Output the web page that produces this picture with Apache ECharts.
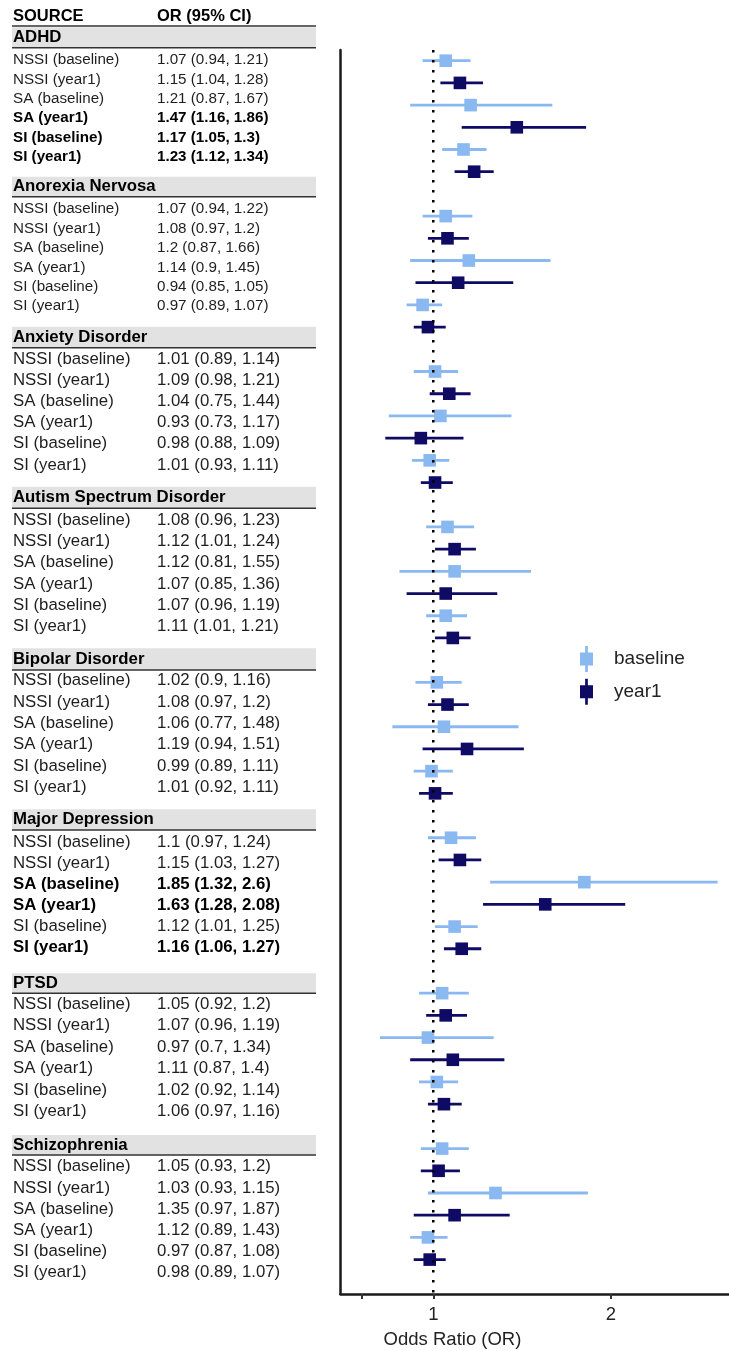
<!DOCTYPE html>
<html><head><meta charset="utf-8">
<script src="https://cdn.jsdelivr.net/npm/echarts@6/dist/echarts.min.js"></script>
<style>html,body{margin:0;padding:0;background:#fff}#c{width:729px;height:1351px}</style>
</head><body><div id="c"></div>
<script>
// ---------------- data ----------------
const groups = ['ADHD','Anorexia Nervosa','Anxiety Disorder','Autism Spectrum Disorder','Bipolar Disorder','Major Depression','PTSD','Schizophrenia'];
const outcomes = ['NSSI (baseline)','NSSI (year1)','SA (baseline)','SA (year1)','SI (baseline)','SI (year1)'];
const waves = ['baseline','year1','baseline','year1','baseline','year1'];
const orValues = [
  [1.07,1.15,1.21,1.47,1.17,1.23],
  [1.07,1.08,1.2,1.14,0.94,0.97],
  [1.01,1.09,1.04,0.93,0.98,1.01],
  [1.08,1.12,1.12,1.07,1.07,1.11],
  [1.02,1.08,1.06,1.19,0.99,1.01],
  [1.1,1.15,1.85,1.63,1.12,1.16],
  [1.05,1.07,0.97,1.11,1.02,1.06],
  [1.05,1.03,1.35,1.12,0.97,0.98]
];
const ciLower = [
  [0.94,1.04,0.87,1.16,1.05,1.12],
  [0.94,0.97,0.87,0.9,0.85,0.89],
  [0.89,0.98,0.75,0.73,0.88,0.93],
  [0.96,1.01,0.81,0.85,0.96,1.01],
  [0.9,0.97,0.77,0.94,0.89,0.92],
  [0.97,1.03,1.32,1.28,1.01,1.06],
  [0.92,0.96,0.7,0.87,0.92,0.97],
  [0.93,0.93,0.97,0.89,0.87,0.89]
];
const ciUpper = [
  [1.21,1.28,1.67,1.86,1.3,1.34],
  [1.22,1.2,1.66,1.45,1.05,1.07],
  [1.14,1.21,1.44,1.17,1.09,1.11],
  [1.23,1.24,1.55,1.36,1.19,1.21],
  [1.16,1.2,1.48,1.51,1.11,1.11],
  [1.24,1.27,2.6,2.08,1.25,1.27],
  [1.2,1.19,1.34,1.4,1.14,1.16],
  [1.2,1.15,1.87,1.43,1.08,1.07]
];
const boldRows = [
  [0,0,0,1,1,1],[0,0,0,0,0,0],[0,0,0,0,0,0],[0,0,0,0,0,0],
  [0,0,0,0,0,0],[0,0,1,1,0,1],[0,0,0,0,0,0],[0,0,0,0,0,0]
];
const xTickValues = [0.6, 1, 2];
const xLabelValues = [1, 2];
const legendNames = ['baseline','year1'];

// ---------------- layout / style ----------------
const FONT = '"Liberation Sans", Arial, sans-serif';
const COLORS = {baseline:'#8ab8f0', year1:'#0f0a64'};
const COL1_X = 13, COL2_X = 157, TABLE_L = 12, TABLE_R = 316;
const bandTop = [27.3,176.7,326.7,486.7,648.3,809.3,973.3,1135];
const bandH = [20.4,20,21,21.6,21.7,20.7,20,20];
const firstRowY = [60,209.3,359.3,520,680.7,842.3,1004.3,1166.7];
const rowStep = [19.34,19.34,21.14,21.34,21.32,21,21.48,21.2];
const rowFont = [15.2,15.2,16.8,16.8,16.8,16.8,16.8,16.8];
const ROWS_PER_GROUP = outcomes.length + 1;

// ---------------- table (graphic) ----------------
const graphics = [];
function txt(x, y, text, size, bold, color, align) {
  graphics.push({type:'text', x, y, silent:true, style:{
    text, fill: color || (bold ? '#000' : '#1e1e1e'),
    font: (bold ? 'bold ' : '') + size + 'px ' + FONT,
    align: align || 'left', verticalAlign:'middle'}});
}
txt(COL1_X, 16.5, 'SOURCE', 16.5, true);
txt(COL2_X, 16.5, 'OR (95% CI)', 16.5, true);
graphics.push({type:'line', silent:true, shape:{x1:TABLE_L, y1:26, x2:TABLE_R, y2:26}, style:{stroke:'#333', lineWidth:1.5}});
groups.forEach((g, gi) => {
  graphics.push({type:'rect', silent:true, shape:{x:TABLE_L, y:bandTop[gi], width:TABLE_R-TABLE_L, height:bandH[gi]}, style:{fill:'#e2e2e2'}});
  graphics.push({type:'line', silent:true, shape:{x1:TABLE_L, y1:bandTop[gi]+bandH[gi], x2:TABLE_R, y2:bandTop[gi]+bandH[gi]}, style:{stroke:'#333', lineWidth:1.6}});
  txt(COL1_X, bandTop[gi] + bandH[gi]/2, g, 16.8, true);
  outcomes.forEach((o, k) => {
    const y = firstRowY[gi] + k * rowStep[gi];
    const b = !!boldRows[gi][k];
    txt(COL1_X, y, o, rowFont[gi], b);
    txt(COL2_X, y, orValues[gi][k] + ' (' + ciLower[gi][k] + ', ' + ciUpper[gi][k] + ')', rowFont[gi], b);
  });
});
txt(452.5, 1340, 'Odds Ratio (OR)', 18.5, false, '#222', 'center');

// ---------------- forest series ----------------
function makeSeries(wave) {
  const color = COLORS[wave];
  const data = [];
  groups.forEach((g, gi) => outcomes.forEach((o, k) => {
    if (waves[k] !== wave) return;
    data.push([orValues[gi][k], ciLower[gi][k], ciUpper[gi][k], gi * ROWS_PER_GROUP + k]);
  }));
  return {
    type:'custom', name: wave, data, z: 3,
    encode:{x:[0,1,2], y:3},
    itemStyle:{color},
    renderItem(params, api) {
      const y = api.value(3);
      const p = api.coord([api.value(0), y]);
      const a = api.coord([api.value(1), y]);
      const b = api.coord([api.value(2), y]);
      return {type:'group', children:[
        {type:'line', shape:{x1:a[0], y1:a[1], x2:b[0], y2:b[1]}, style:{stroke:color, lineWidth:2.8}},
        {type:'rect', shape:{x:p[0]-6.3, y:p[1]-6.3, width:12.6, height:12.6}, style:{fill:color}}
      ]};
    }
  };
}
const Y_MIN = -0.482, Y_MAX = 55.55;

const chart = echarts.init(document.getElementById('c'), null, {renderer:'canvas'});
chart.setOption({
  animation:false,
  backgroundColor:'#fff',
  textStyle:{fontFamily:FONT},
  grid:{left:340.5, right:0, top:50, bottom:1351-1294, containLabel:false, outerBoundsMode:'none'},
  xAxis:{type:'value', min:0.478, max:2.664, splitLine:{show:false},
    axisLine:{show:true, onZero:false, lineStyle:{color:'#1a1a1a', width:2.5}},
    axisTick:{show:true, customValues:xTickValues, length:5, lineStyle:{color:'#333', width:2}},
    axisLabel:{customValues:xLabelValues, margin:11, fontSize:18.5, color:'#222', fontFamily:FONT}},
  yAxis:{type:'value', inverse:true, min:Y_MIN, max:Y_MAX, splitLine:{show:false},
    axisLine:{show:true, onZero:false, lineStyle:{color:'#1a1a1a', width:2.5}},
    axisTick:{show:false}, axisLabel:{show:false}},
  legend:{data:legendNames, orient:'vertical', left:575, top:641, itemWidth:13, itemHeight:26, itemGap:6.7,
    icon:'path://M5.15,0H7.85V6.5H13V19.5H7.85V26H5.15V19.5H0V6.5H5.15Z',
    textStyle:{fontSize:19, color:'#222', fontFamily:FONT, padding:[0,0,0,16]}, selectedMode:false},
  graphic:graphics,
  series:[
    makeSeries('baseline'),
    makeSeries('year1'),
    {type:'line', name:'ref', data:[[1, Y_MIN],[1, Y_MAX]], symbol:'none', silent:true, z:10,
     lineStyle:{color:'#000', width:2.5, type:[2.5,7.5]}}
  ]
});
</script></body></html>
